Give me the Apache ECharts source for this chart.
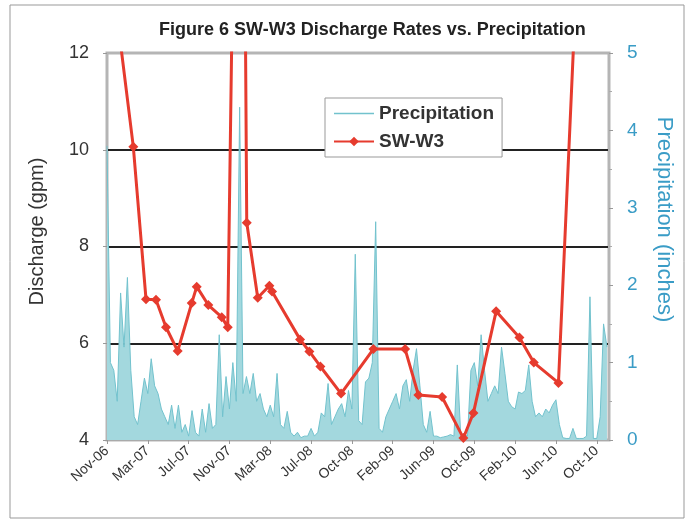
<!DOCTYPE html>
<html>
<head>
<meta charset="utf-8">
<script src="https://cdn.jsdelivr.net/npm/echarts@6/dist/echarts.min.js"></script>
<style>
  html, body { margin: 0; padding: 0; background: #fff; }
  #main { width: 691px; height: 524px; }
</style>
</head>
<body>
<div id="main"></div>
<script>
// x axis: sample slots, 12 slots between two date labels
var tickLabels = ["Nov-06", "Mar-07", "Jul-07", "Nov-07", "Mar-08", "Jul-08", "Oct-08",
  "Feb-09", "Jun-09", "Oct-09", "Feb-10", "Jun-10", "Oct-10"];

// precipitation (inches), one value per slot
var precip = [
  3.8, 1.0, 0.9, 0.5, 1.9, 1.2, 2.1, 0.9, 0.3, 0.2, 0.5, 0.8,
  0.6, 1.05, 0.7, 0.6, 0.4, 0.3, 0.2, 0.45, 0.15, 0.45, 0.1, 0.2,
  0.05, 0.38, 0.1, 0.05, 0.4, 0.1, 0.47, 0.15, 0.2, 1.36, 0.3, 0.82,
  0.4, 1.0, 0.5, 4.3, 0.6, 0.82, 0.6, 0.86, 0.5, 0.6, 0.4, 0.3,
  0.45, 0.3, 0.86, 0.2, 0.15, 0.37, 0.1, 0.05, 0.1, 0.03, 0.05, 0.05,
  0.15, 0.05, 0.1, 0.35, 0.3, 0.73, 0.2, 0.3, 0.4, 0.47, 0.3, 0.64,
  0.4, 2.4, 0.25, 0.2, 0.75, 0.8, 1.0, 2.82, 0.15, 0.1, 0.3, 0.4,
  0.5, 0.6, 0.4, 0.7, 0.78, 0.5, 0.9, 1.18, 0.7, 0.2, 0.1, 0.37,
  0.05, 0.05, 0.03, 0.04, 0.05, 0.07, 0.05, 0.97, 0.07, 0.08, 0.05, 0.9,
  1.0, 0.7, 1.36, 0.9, 0.5, 0.6, 0.7, 0.6, 1.2, 0.86, 0.5, 0.43,
  0.4, 0.62, 0.6, 0.64, 0.97, 0.5, 0.3, 0.35, 0.3, 0.4, 0.35, 0.45,
  0.52, 0.2, 0.03, 0.02, 0.02, 0.15, 0.02, 0.02, 0.02, 0.05, 1.85, 0.02,
  0.02, 0.3, 1.5, 1.2
];

// SW-W3 discharge (gpm) and the slot where each reading falls
var swSlot = [2.65, 7.74, 11.47, 14.41, 17.35, 20.79, 24.91, 26.38, 29.79, 33.74, 35.5,
  39.4, 41.09, 44.32, 47.74, 48.53, 56.76, 59.5, 62.74, 68.82, 78.32, 87.65, 91.56,
  98.53, 104.79, 107.74, 114.41, 121.26, 125.5, 132.74, 137.9];
var swW3 = [12.95, 10.06, 6.91, 6.90, 6.33, 5.84, 6.83, 7.17, 6.79, 6.54, 6.33,
  26, 8.49, 6.94, 7.19, 7.07, 6.08, 5.83, 5.52, 4.96, 5.88, 5.88, 4.93,
  4.89, 4.04, 4.56, 6.66, 6.12, 5.60, 5.18, 13.3];

var myChart = echarts.init(document.getElementById("main"));

var option = {
  animation: false,
  backgroundColor: "#fff",
  textStyle: { fontFamily: "Liberation Sans, Arial, sans-serif" },
  title: {
    text: "Figure 6 SW-W3 Discharge Rates vs. Precipitation",
    left: 154,
    top: 16,
    textStyle: { fontSize: 18, fontWeight: "bold", color: "#222" }
  },
  graphic: [
    {
      type: "rect",
      shape: { x: 10, y: 5, width: 674, height: 513 },
      style: { fill: "none", stroke: "#999", lineWidth: 1 },
      silent: true
    }
  ],
  legend: {
    orient: "vertical",
    left: 325,
    top: 98,
    itemWidth: 40,
    itemHeight: 12,
    itemGap: 9,
    padding: [6, 8, 6, 8],
    borderColor: "#999",
    borderWidth: 1,
    backgroundColor: "#fff",
    textStyle: { fontSize: 19, fontWeight: "bold", color: "#333" },
    data: [
      { name: "Precipitation", icon: "path://M0,0 M40,12 M0,5.3 L40,5.3 L40,6.7 L0,6.7 Z" },
      "SW-W3"
    ]
  },
  grid: {
    left: 107,
    right: 82,
    top: 53,
    bottom: 84,
    show: true,
    borderColor: "#b5b5b5",
    borderWidth: 3
  },
  xAxis: {
    type: "value",
    min: 0,
    max: 147.6,
    interval: 12,
    splitLine: { show: false },
    axisLine: { lineStyle: { color: "#aaa", width: 1 } },
    axisTick: { show: true, length: 4, lineStyle: { color: "#999" } },
    axisLabel: {
      rotate: 42,
      fontSize: 14,
      color: "#333",
      margin: 9,
      showMaxLabel: false,
      formatter: function (v) {
        var k = Math.round(v / 12);
        if (Math.abs(v - k * 12) > 1e-6) return "";
        return tickLabels[k] || "";
      }
    }
  },
  yAxis: [
    {
      type: "value",
      min: 4,
      max: 12,
      interval: 2,
      name: "Discharge (gpm)",
      nameLocation: "middle",
      nameGap: 60,
      nameTextStyle: { fontSize: 20, color: "#333", padding: [0, 0, 0, 30] },
      axisLine: { show: true, lineStyle: { color: "#b5b5b5", width: 2 } },
      axisTick: { show: true, length: 4, lineStyle: { color: "#999" } },
      axisLabel: { fontSize: 18, color: "#333", margin: 18 },
      splitLine: {
        show: true,
        showMinLine: false,
        showMaxLine: false,
        lineStyle: { color: "#222", width: 2 }
      }
    },
    {
      type: "value",
      min: 0,
      max: 5,
      interval: 1,
      position: "right",
      name: "Precipitation (inches)",
      nameLocation: "middle",
      nameRotate: -90,
      nameGap: 44,
      nameTextStyle: { fontSize: 22, color: "#3a9cc6", padding: [0, 54, 0, 0] },
      axisLine: { show: true, lineStyle: { color: "#b5b5b5", width: 2 } },
      axisTick: { show: true, length: 4, lineStyle: { color: "#999" } },
      minorTick: { show: true, splitNumber: 2, length: 3, lineStyle: { color: "#aaa" } },
      axisLabel: { fontSize: 19, color: "#3a9cc6", margin: 18 },
      splitLine: { show: false }
    }
  ],
  series: [
    {
      name: "Precipitation",
      type: "line",
      yAxisIndex: 1,
      symbol: "none",
      color: "#72c2cd",
      lineStyle: { color: "#72c2cd", width: 1 },
      areaStyle: { color: "#a3d8de", opacity: 1 },
      data: precip.map(function (v, i) { return [i, v]; }),
      z: 1
    },
    {
      name: "SW-W3",
      type: "line",
      yAxisIndex: 0,
      symbol: "diamond",
      symbolSize: 10,
      color: "#e63b2e",
      lineStyle: { color: "#e63b2e", width: 3 },
      itemStyle: { color: "#e63b2e" },
      clip: true,
      data: swSlot.map(function (x, i) { return [x, swW3[i]]; }),
      z: 3
    }
  ]
};

myChart.setOption(option);
</script>
</body>
</html>
